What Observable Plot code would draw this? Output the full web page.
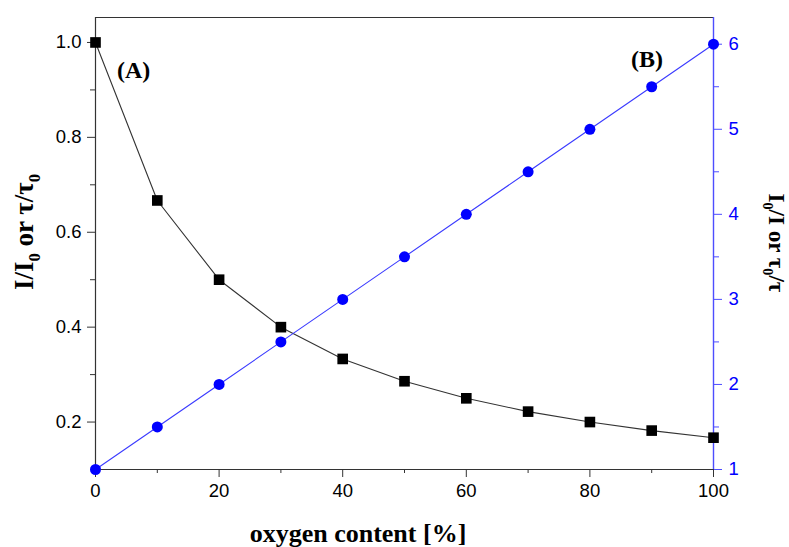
<!DOCTYPE html>
<html>
<head>
<meta charset="utf-8">
<script src="https://cdn.jsdelivr.net/npm/d3@7"></script>
<script src="https://cdn.jsdelivr.net/npm/@observablehq/plot@0.6"></script>
<style>
  html, body { margin: 0; padding: 0; background: #fff; }
  #chart { width: 789px; height: 547px; }
</style>
</head>
<body>
<div id="chart"></div>
<script>
// ---- data ----
const oxygen = [0, 10, 20, 30, 40, 50, 60, 70, 80, 90, 100];
const ratioA = [1.0, 0.667, 0.5, 0.4, 0.333, 0.286, 0.25, 0.222, 0.2, 0.182, 0.167]; // I/I0 or tau/tau0 (left)
const ratioB = [1, 1.5, 2, 2.5, 3, 3.5, 4, 4.5, 5, 5.5, 6];                         // I0/I or tau0/tau (right)
const xTicks = [0, 20, 40, 60, 80, 100];
const xMinor = [10, 30, 50, 70, 90];
const leftTicks = [0.2, 0.4, 0.6, 0.8, 1.0];
const leftMinor = [0.3, 0.5, 0.7, 0.9];
const rightTicks = [1, 2, 3, 4, 5, 6];
const rightMinor = [1.5, 2.5, 3.5, 4.5, 5.5];
const leftDomain = [0.1, 1.0526];
const rightDomain = [1, 6.314];

// map right-axis values onto the left scale
const toLeft = d3.scaleLinear().domain(rightDomain).range(leftDomain);

const rowsA = oxygen.map((x, i) => ({x, y: ratioA[i]}));
const rowsB = oxygen.map((x, i) => ({x, y: ratioB[i]}));

const BLUE = "#0000ff";
const AXISBLUE = "#4d4dff";
const TICKFONT = 18.5;

const plot = Plot.plot({
  width: 789,
  height: 547,
  marginLeft: 95,
  marginRight: 76,
  marginTop: 17,
  marginBottom: 78,
  style: {fontFamily: "'Liberation Sans', Arial, sans-serif", fontSize: TICKFONT + "px", background: "#fff", color: "#000"},
  x: {domain: [0, 100]},
  y: {domain: leftDomain},
  marks: [
    // frame
    Plot.ruleY([leftDomain[1]], {stroke: "#333", strokeWidth: 1.2}),
    Plot.ruleY([leftDomain[0]], {stroke: "#333", strokeWidth: 1.2}),
    Plot.ruleX([0], {stroke: "#333", strokeWidth: 1.2}),
    Plot.ruleX([100], {stroke: AXISBLUE, strokeWidth: 1.4}),
    // x axis
    Plot.axisX({ticks: xTicks, tickSize: 8, tickPadding: 6, fontSize: TICKFONT, label: null, stroke: "#333"}),
    Plot.axisX({ticks: xMinor, tickSize: 4, tickFormat: () => "", label: null, stroke: "#333"}),
    // left axis
    Plot.axisY({ticks: leftTicks, tickSize: 8, tickPadding: 6, tickFormat: d3.format(".1f"), fontSize: TICKFONT, label: null, stroke: "#333"}),
    Plot.axisY({ticks: leftMinor, tickSize: 5, tickFormat: () => "", label: null, stroke: "#333"}),
    // right axis (blue)
    Plot.axisY(rightTicks.map(v => toLeft(v)), {anchor: "right", tickSize: 8, tickPadding: 7, tickFormat: v => d3.format("d")(Math.round(toLeft.invert(v))), fontSize: TICKFONT, label: null, stroke: AXISBLUE, fill: BLUE}),
    Plot.axisY(rightMinor.map(v => toLeft(v)), {anchor: "right", tickSize: 5, tickFormat: () => "", label: null, stroke: AXISBLUE}),
    // series A
    Plot.line(rowsA, {x: "x", y: "y", stroke: "#333", strokeWidth: 1.1}),
    Plot.dot(rowsA, {x: "x", y: "y", symbol: "square", r: 6, fill: "#000", stroke: "none"}),
    // series B
    Plot.line(rowsB, {x: "x", y: d => toLeft(d.y), stroke: "#3a3aff", strokeWidth: 1.1}),
    Plot.dot(rowsB, {x: "x", y: d => toLeft(d.y), r: 5.5, fill: BLUE, stroke: "none"})
  ]
});

document.getElementById("chart").appendChild(plot);

// ---- titles and annotations ----
const svg = d3.select(plot);
const serif = "'Liberation Serif', 'Times New Roman', serif";

function subText(g, parts, size) {
  const t = g.append("text")
    .attr("font-family", serif)
    .attr("font-weight", "bold")
    .attr("font-size", size)
    .attr("fill", "#000")
    .attr("text-anchor", "middle");
  let shifted = false;
  parts.forEach(([s, sub]) => {
    const ts = t.append("tspan").text(s);
    if (sub) {
      ts.attr("font-size", size * 0.62).attr("dy", size * 0.25);
      shifted = true;
    } else if (shifted) {
      ts.attr("dy", -size * 0.25);
      shifted = false;
    }
  });
  return t;
}

// x title
svg.append("text")
  .attr("x", 358).attr("y", 542)
  .attr("text-anchor", "middle")
  .attr("font-family", serif).attr("font-weight", "bold").attr("font-size", 26)
  .attr("fill", "#000")
  .text("oxygen content [%]");

// left y title
const gl = svg.append("g").attr("transform", "translate(33,232) rotate(-90)");
subText(gl, [["I/I"], ["0", true], [" or τ/τ"], ["0", true]], 27);

// right y title
const gr = svg.append("g").attr("transform", "translate(769,243) rotate(90)");
subText(gr, [["I"], ["0", true], ["/I or τ"], ["0", true], ["/τ"]], 23);

// panel labels
svg.append("text").attr("x", 117).attr("y", 78).attr("text-anchor", "start")
  .attr("font-family", serif).attr("font-weight", "bold").attr("font-size", 24)
  .attr("fill", "#000").text("(A)");
svg.append("text").attr("x", 631).attr("y", 67).attr("text-anchor", "start")
  .attr("font-family", serif).attr("font-weight", "bold").attr("font-size", 24)
  .attr("fill", "#000").text("(B)");
</script>
</body>
</html>
